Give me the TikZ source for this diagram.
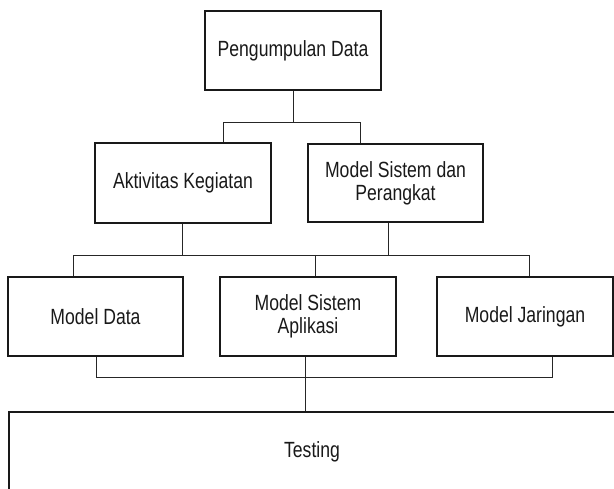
\documentclass[tikz,border=0pt]{standalone}
\usepackage{fontspec}
\setmainfont{Liberation Sans}[FakeStretch=0.8]
\begin{document}
\begin{tikzpicture}[x=1pt,y=-1pt,
  box/.style={draw=black!90, line width=1.6pt, inner sep=0pt, align=center,
    font=\fontsize{22}{23}\selectfont, text=black!90},
  conn/.style={draw=black!85, line width=0.9pt},
  lbl/.style={inner sep=0pt, font=\fontsize{22}{23}\selectfont, text=black!90}]
  \useasboundingbox (0,0) rectangle (614,489);
  \clip (0,0) rectangle (614,489);

  % boxes
  \node[box, minimum width=176, minimum height=79] (P) at (293,50.5) {Pengumpulan Data};
  \node[box, minimum width=176, minimum height=80] (A) at (183,183) {Aktivitas Kegiatan};
  \node[box, minimum width=175, minimum height=78] (M) at (395.5,183) {Model Sistem dan\\Perangkat};
  \node[box, minimum width=175, minimum height=79] (D) at (95.5,316.5) {Model Data};
  \node[box, minimum width=176, minimum height=79] (S) at (308,316.5) {Model Sistem\\Aplikasi};
  \node[box, minimum width=176, minimum height=79] (J) at (525,316.5) {Model Jaringan};
  \node[box, anchor=north west, minimum width=640, minimum height=110] (T) at (8,411) {};
  \node[lbl] (Tlabel) at (312,452) {Testing};

  % bus points
  \coordinate (t1) at (223,122);
  \coordinate (t2) at (360,122);
  \coordinate (ax) at (182,255);
  \coordinate (mx) at (388,255);
  \coordinate (m1) at (73,255);
  \coordinate (m2) at (529,255);
  \coordinate (sx) at (315,255);
  \coordinate (l1) at (96,377);
  \coordinate (l2) at (552,377);
  \coordinate (l3) at (305.5,377);

  % first level
  \draw[conn] (P.south) -- (P.south |- t1);
  \draw[conn] (A.north -| t1) |- (t2) -- (M.north -| t2);

  % second level
  \draw[conn] (A.south -| ax) -- (ax);
  \draw[conn] (M.south -| mx) -- (mx);
  \draw[conn] (D.north -| m1) |- (m2) -- (J.north -| m2);
  \draw[conn] (sx) -- (S.north -| sx);

  % third level
  \draw[conn] (D.south -| l1) |- (l2) -- (J.south -| l2);
  \draw[conn] (S.south -| l3) -- (T.north -| l3);
\end{tikzpicture}
\end{document}
